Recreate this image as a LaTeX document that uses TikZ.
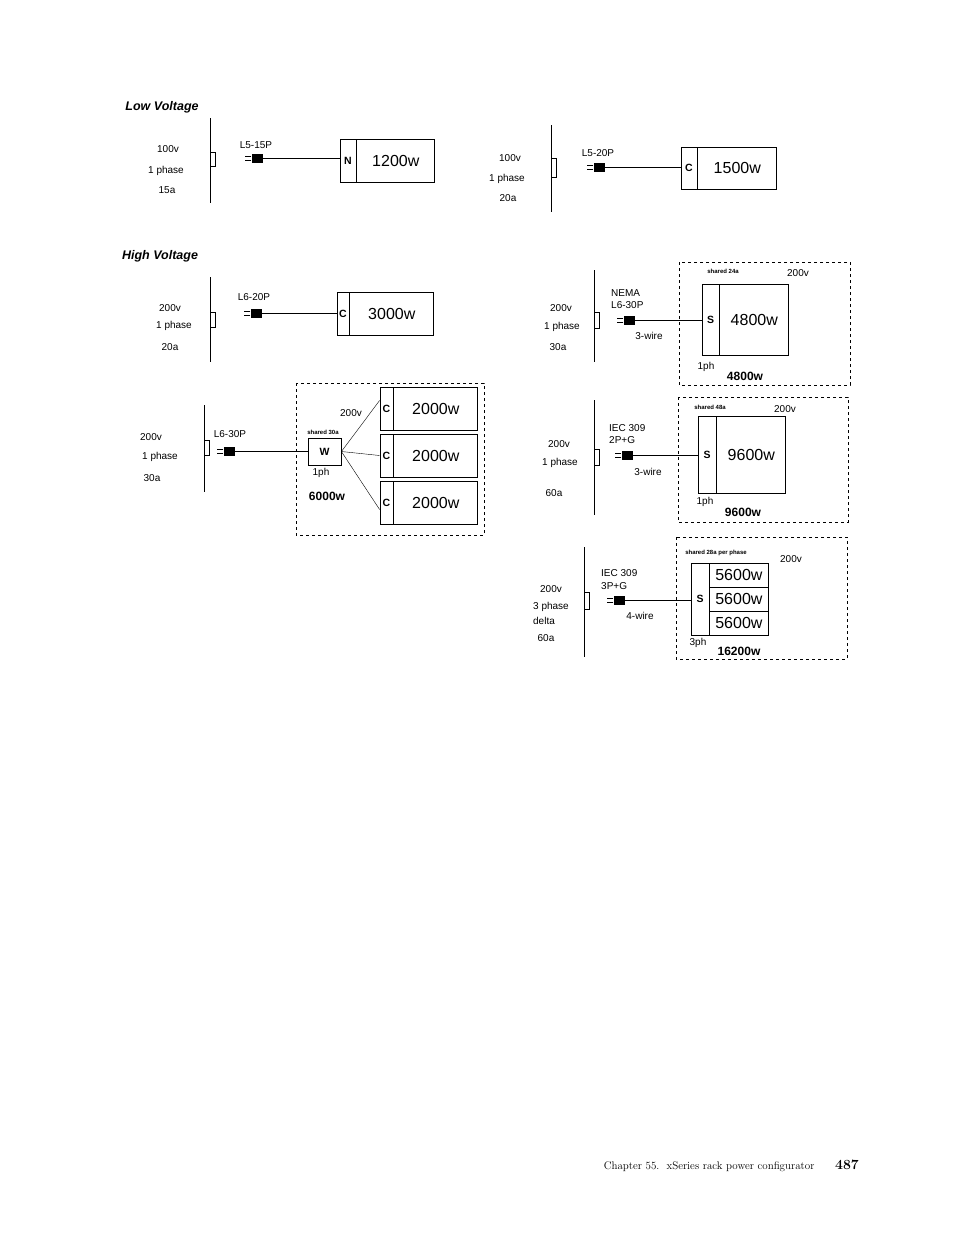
\documentclass[tikz,border=0pt]{standalone}
\usepackage{fontspec}
\newfontfamily\arial{Liberation Sans}
\usetikzlibrary{positioning}
\newcommand{\prongs}[1]{\draw ([yshift=2pt]#1.west) -- ++(-6,0) ([yshift=-2pt]#1.west) -- ++(-6,0);}
\begin{document}
\begin{tikzpicture}[x=1pt, y=-1pt,
  lbl/.style={font=\arial\fontsize{10}{11}\selectfont, inner sep=0pt},
  tiny/.style={font=\arial\bfseries\fontsize{6}{7}\selectfont, inner sep=0pt},
  title/.style={font=\arial\bfseries\itshape\fontsize{12.5}{14}\selectfont, inner sep=0pt},
  total/.style={font=\arial\bfseries\fontsize{12}{13}\selectfont, inner sep=0pt},
  plug/.style={rectangle, fill=black, minimum width=11pt, minimum height=9pt, inner sep=0pt},
  tag/.style={rectangle, draw=black, thick, inner sep=0pt, font=\arial\bfseries\fontsize{10.5}{12}\selectfont},
  wbox/.style={rectangle, draw=black, thick, inner sep=0pt, font=\arial\fontsize{16}{18}\selectfont},
  outlet/.style={rectangle, draw=black, minimum width=5pt, inner sep=0pt},
  group/.style={draw=black, dashed}]
  \useasboundingbox (0,0) rectangle (954,1235);

  % low voltage
  \node[title] (lowt) at (162,107) {Low Voltage};
  \draw[thick] (210,118) -- (210,203);
  \node[outlet, minimum height=14pt] (o1) at (212.5,159) {};
  \node[lbl] (v1) at (168,149) {100v};
  \node[lbl] (ph1) at (166,171) {1 phase};
  \node[lbl] (a1) at (167,190) {15a};
  \node[plug] (p1) at (257,158) {};
  \prongs{p1}
  \node[lbl] (n1) at (256,145) {L5-15P};
  \node[tag, minimum width=16pt, minimum height=43pt] (t1) at (348,160.5) {N};
  \node[wbox, minimum width=78pt, minimum height=43pt, right=0pt of t1] (w1) {1200w};
  \draw[thick] (p1.east) -- (p1.east -| t1.west);

  \draw[thick] (551,125) -- (551,212);
  \node[outlet, minimum height=19pt] (o2) at (553.5,167.5) {};
  \node[lbl] (v2) at (510,158) {100v};
  \node[lbl] (ph2) at (507,179) {1 phase};
  \node[lbl] (a2) at (508,198) {20a};
  \node[plug] (p2) at (599,167) {};
  \prongs{p2}
  \node[lbl] (n2) at (598,153) {L5-20P};
  \node[tag, minimum width=16pt, minimum height=42pt] (t2) at (689,168) {C};
  \node[wbox, minimum width=79pt, minimum height=42pt, right=0pt of t2] (w2) {1500w};
  \draw[thick] (p2.east) -- (p2.east -| t2.west);

  % high voltage
  \node[title] (hight) at (160,256) {High Voltage};
  \draw[thick] (210,277) -- (210,362);
  \node[outlet, minimum height=15pt] (o3) at (212.5,319.5) {};
  \node[lbl] (v3) at (170,308) {200v};
  \node[lbl] (ph3) at (174,326) {1 phase};
  \node[lbl] (a3) at (170,347) {20a};
  \node[plug] (p3) at (256,313) {};
  \prongs{p3}
  \node[lbl] (n3) at (254,297) {L6-20P};
  \node[tag, minimum width=12pt, minimum height=43pt] (t3) at (343,313.5) {C};
  \node[wbox, minimum width=84pt, minimum height=43pt, right=0pt of t3] (w3) {3000w};
  \draw[thick] (p3.east) -- (p3.east -| t3.west);

  \draw[thick] (204,405) -- (204,492);
  \node[outlet, minimum height=15pt] (o4) at (206.5,447.5) {};
  \node[lbl] (v4) at (151,437) {200v};
  \node[lbl] (ph4) at (160,457) {1 phase};
  \node[lbl] (a4) at (152,478) {30a};
  \node[plug] (p4) at (229,451) {};
  \prongs{p4}
  \node[lbl] (n4) at (230,434) {L6-30P};
  \draw[group] (296,383) rectangle (484,535);
  \node[tag, minimum width=33pt, minimum height=27pt] (wj) at (324.5,451.5) {W};
  \draw[thick] (p4.east) -- (p4.east -| wj.west);
  \node[tiny] (s4) at (323,432) {shared 30a};
  \node[lbl] (vv4) at (351,413) {200v};
  \node[lbl] (ph4b) at (321,473) {1ph};
  \node[total] (tot4) at (327,496) {6000w};
  \foreach \y/\n in {408.5/a, 455.5/b, 502.5/c} {
    \node[tag, minimum width=13pt, minimum height=43pt] (c\n) at (386.5,\y) {C};
    \node[wbox, minimum width=84pt, minimum height=43pt, right=0pt of c\n] (k\n) {2000w};
  }
  \draw (wj.east) -- ([yshift=8pt]ca.west);
  \draw (wj.east) -- (cb.west);
  \draw (wj.east) -- ([yshift=-7pt]cc.west);

  \draw[thick] (594,270) -- (594,362);
  \node[outlet, minimum height=16pt] (o5) at (596.5,320) {};
  \node[lbl] (v5) at (561,308) {200v};
  \node[lbl] (ph5) at (562,327) {1 phase};
  \node[lbl] (a5) at (558,347) {30a};
  \node[plug] (p5) at (629,320) {};
  \prongs{p5}
  \node[lbl, anchor=west] (n5) at (611,293) {NEMA};
  \node[lbl, anchor=west] (m5) at (611,305) {L6-30P};
  \node[lbl] (wr5) at (649,336) {3-wire};
  \draw[group] (679,262) rectangle (850,385);
  \node[tag, minimum width=17pt, minimum height=71pt] (t5) at (710.5,319.5) {S};
  \node[wbox, minimum width=69pt, minimum height=71pt, right=0pt of t5] (w5) {4800w};
  \draw[thick] (p5.east) -- (p5.east -| t5.west);
  \node[tiny] (s5) at (723,271) {shared 24a};
  \node[lbl] (vv5) at (798,273) {200v};
  \node[lbl] (ph5b) at (706,367) {1ph};
  \node[total] (tot5) at (745,376) {4800w};

  \draw[thick] (594,400) -- (594,515);
  \node[outlet, minimum height=16pt] (o6) at (596.5,457) {};
  \node[lbl] (v6) at (559,444) {200v};
  \node[lbl] (ph6) at (560,463) {1 phase};
  \node[lbl] (a6) at (554,493) {60a};
  \node[plug] (p6) at (627,455) {};
  \prongs{p6}
  \node[lbl, anchor=west] (n6) at (609,428) {IEC 309};
  \node[lbl, anchor=west] (m6) at (609,440) {2P+G};
  \node[lbl] (wr6) at (648,472) {3-wire};
  \draw[group] (678,397) rectangle (848,522);
  \node[tag, minimum width=18pt, minimum height=77pt] (t6) at (707,454.5) {S};
  \node[wbox, minimum width=69pt, minimum height=77pt, right=0pt of t6] (w6) {9600w};
  \draw[thick] (p6.east) -- (p6.east -| t6.west);
  \node[tiny] (s6) at (710,407) {shared 48a};
  \node[lbl] (vv6) at (785,409) {200v};
  \node[lbl] (ph6b) at (705,502) {1ph};
  \node[total] (tot6) at (743,512) {9600w};

  \draw[thick] (584,547) -- (584,657);
  \node[outlet, minimum height=17pt] (o7) at (586.5,600.5) {};
  \node[lbl] (v7) at (551,589) {200v};
  \node[lbl] (ph7) at (551,607) {3 phase};
  \node[lbl] (d7) at (544,621) {delta};
  \node[lbl] (a7) at (546,638) {60a};
  \node[plug] (p7) at (619,600) {};
  \prongs{p7}
  \node[lbl, anchor=west] (n7) at (601,573) {IEC 309};
  \node[lbl, anchor=west] (m7) at (601,586) {3P+G};
  \node[lbl] (wr7) at (640,616) {4-wire};
  \draw[group] (676,537) rectangle (847,659);
  \node[tag, minimum width=18pt, minimum height=72pt] (t7) at (700,599) {S};
  \foreach \y/\n in {575/a, 599/b, 623/c}
    \node[wbox, minimum width=59pt, minimum height=24pt, anchor=west] (f\n) at (709,\y) {5600w};
  \draw[thick] (p7.east) -- (p7.east -| t7.west);
  \node[tiny] (s7) at (716,553) {shared 28a per phase};
  \node[lbl] (vv7) at (791,559) {200v};
  \node[lbl] (ph7b) at (698,643) {3ph};
  \node[total] (tot7) at (739,651) {16200w};

  % footer
  \node[anchor=east, font=\fontsize{11}{13}\selectfont] (chap) at (818,1167) {Chapter 55.\ \ xSeries rack power configurator};
  \node[font=\bfseries\fontsize{14}{16}\selectfont] (page) at (847,1165) {487};
\end{tikzpicture}
\end{document}
